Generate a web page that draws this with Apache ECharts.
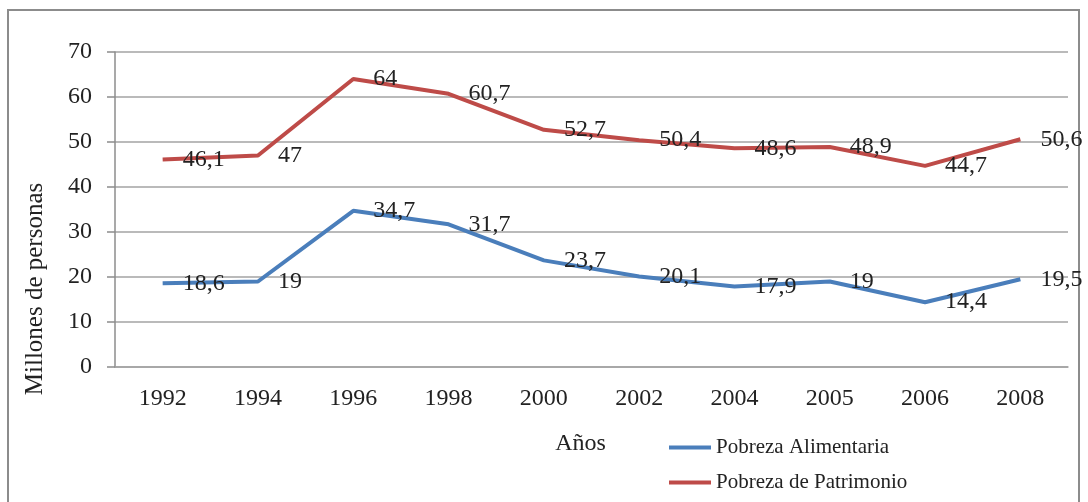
<!DOCTYPE html>
<html>
<head>
<meta charset="utf-8">
<title>Pobreza en México 1992-2008</title>
<script src="https://cdn.jsdelivr.net/npm/echarts@6/dist/echarts.min.js"></script>
<style>
  html, body { margin: 0; padding: 0; background: #ffffff; }
  #chart { width: 1088px; height: 502px; }
</style>
</head>
<body>
<div id="chart"></div>
<script>
// Years on the horizontal axis
const years = ['1992', '1994', '1996', '1998', '2000', '2002', '2004', '2005', '2006', '2008'];
// Millions of people in food poverty
const pobrezaAlimentaria = [18.6, 19, 34.7, 31.7, 23.7, 20.1, 17.9, 19, 14.4, 19.5];
// Millions of people in asset poverty
const pobrezaPatrimonio = [46.1, 47, 64, 60.7, 52.7, 50.4, 48.6, 48.9, 44.7, 50.6];
// Vertical axis range
const yMin = 0, yMax = 70, yStep = 10;

const serif = '"Liberation Serif", "Times New Roman", serif';
const textColor = '#222222';
const gridColor = '#a3a3a3';

// Decimal comma, as written in Spanish
const fmt = v => String(v).replace('.', ',');

const chart = echarts.init(document.getElementById('chart'), null, { renderer: 'canvas' });

function lineSeries(name, data, color) {
  return {
    name: name,
    type: 'line',
    data: data,
    // invisible markers so the value labels still get drawn
    symbol: 'circle',
    symbolSize: 0.1,
    showSymbol: true,
    smooth: false,
    lineStyle: { color: color, width: 4 },
    itemStyle: { color: color },
    label: {
      show: true,
      position: 'right',
      distance: 20,
      fontFamily: serif,
      fontSize: 24,
      color: textColor,
      formatter: p => fmt(p.value)
    },
    labelLayout: { hideOverlap: false },
    z: 3
  };
}

chart.setOption({
  backgroundColor: '#ffffff',
  animation: false,
  grid: { left: 115, right: 20, top: 52, bottom: 135, containLabel: false },
  xAxis: {
    type: 'category',
    data: years,
    boundaryGap: true,
    name: 'Años',
    nameLocation: 'middle',
    nameGap: 65,
    nameTextStyle: { fontFamily: serif, fontSize: 24, color: textColor, padding: [0, 22, 0, 0] },
    axisLine: { show: true, lineStyle: { color: gridColor, width: 1.5 } },
    axisTick: { show: false },
    axisLabel: { fontFamily: serif, fontSize: 24, color: textColor, margin: 20 }
  },
  yAxis: {
    type: 'value',
    min: yMin,
    max: yMax,
    interval: yStep,
    axisLine: { show: true, lineStyle: { color: '#8c8c8c', width: 1.5 } },
    axisTick: { show: true, length: 8, lineStyle: { color: '#8c8c8c', width: 1.5 } },
    axisLabel: { fontFamily: serif, fontSize: 24, color: textColor, margin: 23 },
    splitLine: { show: true, lineStyle: { color: gridColor, width: 1.5 } }
  },
  legend: {
    orient: 'vertical',
    left: 664,
    top: 432,
    itemWidth: 42,
    itemHeight: 4,
    itemGap: 14,
    icon: 'rect',
    textStyle: { fontFamily: serif, fontSize: 21, color: textColor },
    data: ['Pobreza Alimentaria', 'Pobreza de Patrimonio']
  },
  graphic: [
    {
      type: 'rect',
      shape: { x: 8, y: 10, width: 1071, height: 500 },
      style: { fill: null, stroke: '#8c8c8c', lineWidth: 2 },
      silent: true
    },
    {
      type: 'text',
      x: 35,
      y: 289,
      rotation: Math.PI / 2,
      style: {
        text: 'Millones de personas',
        fontFamily: serif,
        fontSize: 25,
        fill: textColor,
        textAlign: 'center',
        textVerticalAlign: 'middle'
      },
      silent: true
    }
  ],
  series: [
    lineSeries('Pobreza Alimentaria', pobrezaAlimentaria, '#4a7ebb'),
    lineSeries('Pobreza de Patrimonio', pobrezaPatrimonio, '#be4b48')
  ]
});
</script>
</body>
</html>
